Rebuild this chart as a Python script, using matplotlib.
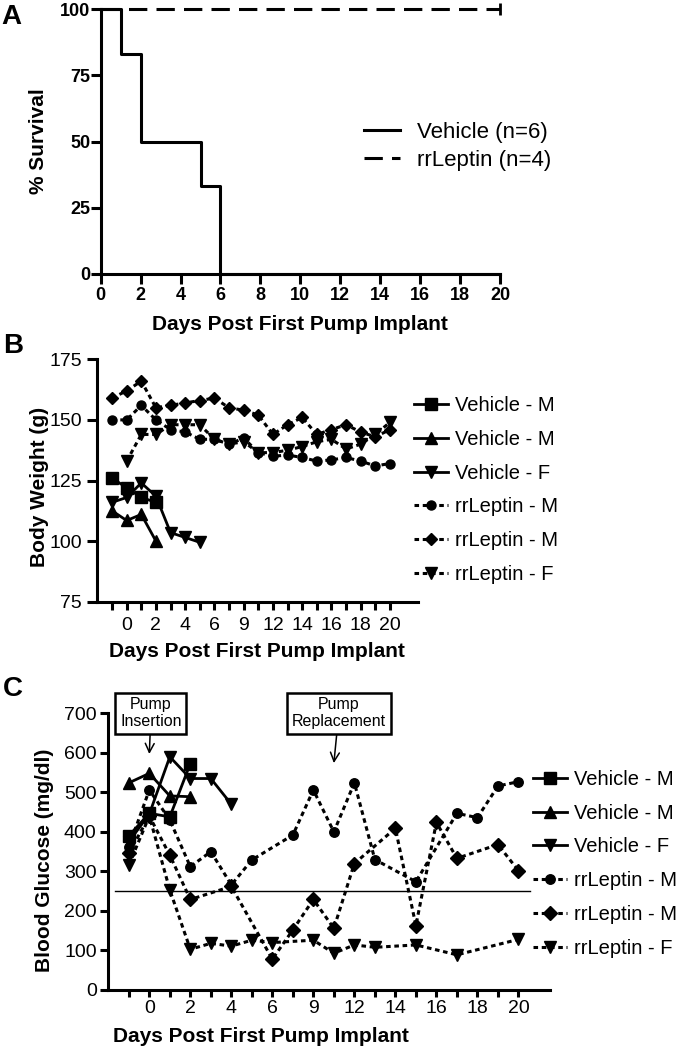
import matplotlib
matplotlib.use('Agg')
import matplotlib.pyplot as plt

W, H = 686, 1050
plt.rcParams['font.family'] = ['Liberation Sans', 'DejaVu Sans']

# ---------------- data ----------------
# Panel A: survival
veh_days = [0, 1, 2, 5, 6, 20]
veh_surv = [100, 83.3, 50, 33.3, 0, 0]
lep_days = [0, 20]
lep_surv = [100, 100]
surv_xticks = list(range(0, 21, 2))
surv_yticks = [0, 25, 50, 75, 100]

# Panels B/C share a categorical day axis (20 sampling slots)
day_labels = ['', '0', '', '2', '', '4', '', '6', '', '9', '', '12', '', '14',
              '', '16', '', '18', '', '20']
series_names = ['Vehicle - M', 'Vehicle - M', 'Vehicle - F',
                'rrLeptin - M', 'rrLeptin - M', 'rrLeptin - F']

# Panel B: body weight (g)  -> (slot positions, values)
bw_veh_m1_pos = [0, 1, 2, 3]
bw_veh_m1 = [126, 122, 118, 116]
bw_veh_m2_pos = [0, 1, 2, 3]
bw_veh_m2 = [112.5, 108.5, 111, 100]
bw_veh_f_pos = [0, 1, 2, 3, 4, 5, 6]
bw_veh_f = [116, 118, 124, 118.5, 103.5, 101.5, 99.5]
bw_lep_m1_pos = list(range(20))
bw_lep_m1 = [150, 150, 156, 150, 146, 145, 142, 142, 140, 142.5, 136.5, 135,
             135.5, 134.5, 133, 133.5, 134.5, 133, 131, 132]
bw_lep_m2_pos = list(range(20))
bw_lep_m2 = [159, 162, 166, 155, 156, 157, 158, 159, 155, 154, 152, 144, 148,
             151, 144, 146, 148, 145, 143, 146]
bw_lep_f_pos = list(range(1, 20))
bw_lep_f = [133, 144, 144, 148, 148, 148, 142, 140, 141, 136.5, 136.5, 137.5,
            139, 141, 142, 138, 140, 144, 149]
bw_yticks = [75, 100, 125, 150, 175]

# Panel C: blood glucose (mg/dl)
bg_veh_m1_pos = [0, 1, 2, 3]
bg_veh_m1 = [390, 447, 438, 573]
bg_veh_m2_pos = [0, 1, 2, 3]
bg_veh_m2 = [524, 548, 491, 489]
bg_veh_f_pos = [0, 1, 2, 3, 4, 5]
bg_veh_f = [375, 445, 590, 535, 535, 470]
bg_lep_m1_pos = [0, 1, 2, 3, 4, 5, 6, 8, 9, 10, 11, 12, 14, 16, 17, 18, 19]
bg_lep_m1 = [362, 506, 430, 312, 350, 266, 329, 392, 506, 400, 524, 330, 274,
             447, 436, 516, 527]
bg_lep_m2_pos = [0, 1, 2, 3, 5, 7, 8, 9, 10, 11, 13, 14, 15, 16, 18, 19]
bg_lep_m2 = [346, 440, 341, 229, 262, 78, 152, 229, 156, 320, 409, 163,
             424, 333, 368, 302]
bg_lep_f_pos = [0, 1, 2, 3, 4, 5, 6, 7, 9, 10, 11, 12, 14, 16, 19]
bg_lep_f = [316, 440, 253, 103, 118, 111, 126, 120, 126, 93, 114, 108, 114,
            89, 128]
bg_yticks = list(range(0, 701, 100))
bg_threshold = 250
insertion_slot, insertion_tip, insertion_box = 1, 597, (1.08, 700)
replace_slot, replace_tip, replace_box = 10, 574, (10.24, 700)

# ---------------- style ----------------
markers = ['s', '^', 'v', 'o', 'D', 'v']
msizes = [8, 8.5, 8.5, 6.5, 6.5, 8.5]
DOT = (0, (1.5, 1.2))


def ax_px(l, r, t, b):
    return fig.add_axes([l / W, 1 - b / H, (r - l) / W, (b - t) / H])


def style_axes(ax, lw=2.0):
    for s in ['top', 'right']:
        ax.spines[s].set_visible(False)
    for s in ['left', 'bottom']:
        ax.spines[s].set_linewidth(lw)
    ax.tick_params(width=lw, direction='out')


fig = plt.figure(figsize=(W / 100, H / 100), dpi=100)

# ---------------- Panel A ----------------
axA = ax_px(100.7, 500, 9.3, 274)
style_axes(axA, 2.2)
axA.step(veh_days, veh_surv, where='post', color='black', lw=2.2,
         clip_on=False, label='Vehicle (n=6)')
axA.plot(lep_days, lep_surv, color='black', lw=2.2, ls=(0, (6, 3)),
         clip_on=False, label='rrLeptin (n=4)')
axA.plot(lep_days[-1:], lep_surv[-1:], marker='|', ms=9, mew=2,
         color='black', clip_on=False)
axA.set_xlim(0, 20)
axA.set_ylim(0, 100)
axA.set_xticks(surv_xticks)
axA.set_yticks(surv_yticks)
axA.tick_params(axis='x', length=7, pad=2.5)
axA.tick_params(axis='y', length=7, pad=0.5)
for t in axA.get_xticklabels() + axA.get_yticklabels():
    t.set_fontweight('bold')
    t.set_fontsize(13)
axA.set_xlabel('Days Post First Pump Implant', fontsize=15,
               fontweight='bold', va='center')
axA.xaxis.set_label_coords(300 / W, 1 - 325 / H, transform=fig.transFigure)
axA.set_ylabel('% Survival', fontsize=15, fontweight='bold', va='center')
axA.yaxis.set_label_coords(39 / W, 1 - 141 / H, transform=fig.transFigure)
axA.legend(loc='center left', bbox_to_anchor=(364 / W, 1 - 146.5 / H),
           bbox_transform=fig.transFigure, frameon=False, fontsize=16,
           handlelength=1.62, handletextpad=0.75, labelspacing=0.3,
           borderpad=0, borderaxespad=0)


# ---------------- Panels B and C ----------------
def draw_series(ax, data, ms_scale=1.0):
    for i, (pos, vals) in enumerate(data):
        ls = '-' if i < 3 else DOT
        ax.plot(pos, vals, color='black', lw=2.0 if i < 3 else 2.2, ls=ls,
                marker=markers[i], ms=msizes[i] * ms_scale,
                mfc='black', mec='black', label=series_names[i],
                clip_on=False)


def slot_axis(ax, xlim, ylim, yticks, xtick_len, ytick_len, xpad, ypad):
    style_axes(ax, 2.2)
    ax.set_xlim(*xlim)
    ax.set_ylim(*ylim)
    ax.set_xticks(range(len(day_labels)))
    ax.set_xticklabels(day_labels, fontsize=14)
    ax.set_yticks(yticks)
    ax.set_yticklabels([str(v) for v in yticks], fontsize=14)
    ax.tick_params(axis='x', length=xtick_len, pad=xpad)
    ax.tick_params(axis='y', length=ytick_len, pad=ypad)


axB = ax_px(96.7, 418.3, 359.3, 601.7)
draw_series(axB, [(bw_veh_m1_pos, bw_veh_m1), (bw_veh_m2_pos, bw_veh_m2),
                  (bw_veh_f_pos, bw_veh_f), (bw_lep_m1_pos, bw_lep_m1),
                  (bw_lep_m2_pos, bw_lep_m2), (bw_lep_f_pos, bw_lep_f)])
slot_axis(axB, (-1.05, 20.94), (75, 175), bw_yticks, 6, 7.5, 5.3, 3)
axB.set_xlabel('Days Post First Pump Implant', fontsize=15,
               fontweight='bold', va='center')
axB.xaxis.set_label_coords(257 / W, 1 - 651.7 / H, transform=fig.transFigure)
axB.set_ylabel('Body Weight (g)', fontsize=15, fontweight='bold',
               va='center')
axB.yaxis.set_label_coords(40 / W, 1 - 487 / H, transform=fig.transFigure)
axB.legend(loc='center left', bbox_to_anchor=(414 / W, 1 - 490 / H),
           bbox_transform=fig.transFigure, frameon=False, fontsize=14.5,
           handlelength=1.69, handletextpad=0.35, labelspacing=0.73,
           borderpad=0, borderaxespad=0)

axC = ax_px(108.3, 550, 713.3, 990)
draw_series(axC, [(bg_veh_m1_pos, bg_veh_m1), (bg_veh_m2_pos, bg_veh_m2),
                  (bg_veh_f_pos, bg_veh_f), (bg_lep_m1_pos, bg_lep_m1),
                  (bg_lep_m2_pos, bg_lep_m2), (bg_lep_f_pos, bg_lep_f)],
            ms_scale=1.05)
slot_axis(axC, (-1.0, 20.54), (0, 700), bg_yticks, 5, 6, 2, 2.4)
axC.axhline(bg_threshold, xmin=0.015, xmax=0.955, color='black', lw=1.0,
            zorder=1)
axC.set_xlabel('Days Post First Pump Implant', fontsize=15,
               fontweight='bold', va='center')
axC.xaxis.set_label_coords(260.5 / W, 1 - 1036.7 / H,
                           transform=fig.transFigure)
axC.set_ylabel('Blood Glucose (mg/dl)', fontsize=15, fontweight='bold',
               va='center')
axC.yaxis.set_label_coords(45 / W, 1 - 860 / H, transform=fig.transFigure)
axC.legend(loc='center left', bbox_to_anchor=(533 / W, 1 - 863.8 / H),
           bbox_transform=fig.transFigure, frameon=False, fontsize=14.5,
           handlelength=1.69, handletextpad=0.35, labelspacing=0.73,
           borderpad=0, borderaxespad=0)

box = dict(boxstyle='square,pad=0.3', fc='white', ec='black', lw=1.8)
arrow = dict(arrowstyle='->', lw=1.1, color='black', shrinkA=0, shrinkB=0,
             mutation_scale=16)
axC.annotate('Pump\nInsertion', xy=(insertion_slot, insertion_tip),
             xytext=insertion_box, ha='center', va='center', fontsize=11.5,
             linespacing=1.15, bbox=box, arrowprops=arrow,
             annotation_clip=False)
axC.annotate('Pump\nReplacement', xy=(replace_slot, replace_tip),
             xytext=replace_box, ha='center', va='center', fontsize=11.5,
             linespacing=1.15, bbox=box, arrowprops=arrow,
             annotation_clip=False)

# panel letters
for letter, (px, py) in zip('ABC', [(11, 17), (13.5, 346), (12.5, 689)]):
    fig.text(px / W, 1 - py / H, letter, fontsize=20, fontweight='bold',
             ha='center', va='center')

fig.savefig('out.png', dpi=100)
